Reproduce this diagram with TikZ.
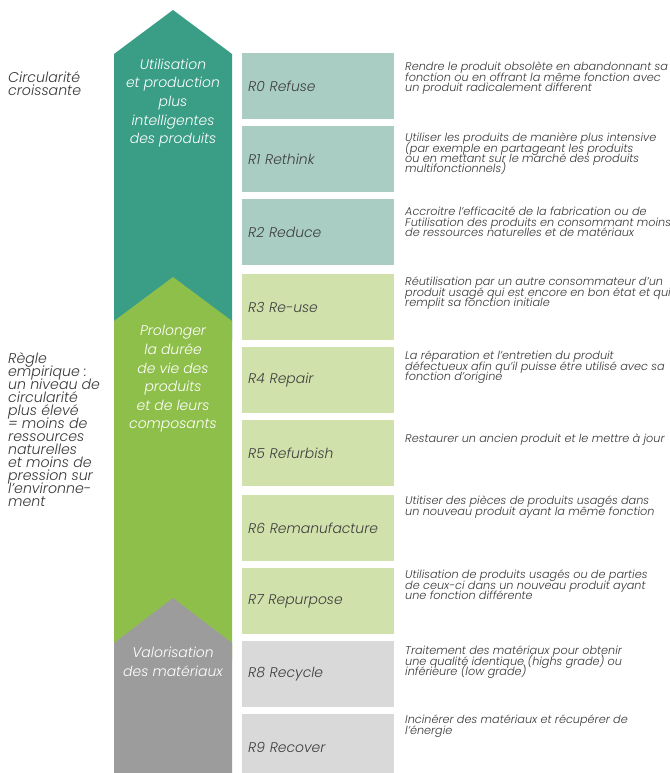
\documentclass[tikz,border=0pt]{standalone}
\usepackage{fontspec}
\setmainfont{Poppins}[UprightFont={* Light}, ItalicFont={* Light Italic}]
\definecolor{tealA}{HTML}{3A9D86}
\definecolor{tealB}{HTML}{A9CDC3}
\definecolor{greenA}{HTML}{8FBF4B}
\definecolor{greenB}{HTML}{D1E1AB}
\definecolor{grayA}{HTML}{9C9C9C}
\definecolor{grayB}{HTML}{D9D9D9}
\definecolor{labc}{HTML}{3E3E3E}
\definecolor{descc}{HTML}{383838}
\newcommand\tightlines{\lineskiplimit=-100pt\relax}
\newcommand\descfont{\fontsize{11.3}{10.3}\selectfont\itshape\tightlines}
\newcommand\labfont{\fontsize{14}{16}\selectfont\itshape}
\newcommand\arrfont{\fontsize{14}{18.7}\selectfont\itshape\tightlines}
\newcommand\sidefont{\fontsize{14.2}{13.1}\selectfont\itshape\tightlines}
\begin{document}
\begin{tikzpicture}[x=1bp,y=-1bp,
  rbox/.style={minimum width=152bp, minimum height=66bp, inner xsep=6bp, inner ysep=0pt, text width=140bp, align=left, anchor=north west, font=\labfont, text=labc},
  desc/.style={anchor=north west, inner sep=0pt, align=left, font=\descfont, text=descc},
  atext/.style={align=center, text=white, font=\arrfont, inner sep=0pt},
  side/.style={anchor=north west, inner sep=0pt, align=left, font=\sidefont, text=descc}]
\useasboundingbox[fill=white] (0,0) rectangle (670,773);
% arrows
\fill[tealA] (114,340) -- (114,54) -- (173,10) -- (232,54) -- (232,340) -- cycle;
\fill[greenA] (114,660) -- (114,321) -- (173,277) -- (232,321) -- (232,660) -- cycle;
\fill[grayA] (114,773) -- (114,643) -- (173,598) -- (232,643) -- (232,773) -- cycle;
\node[atext] (ta) at (173,103) {Utilisation\\et production\\plus\\intelligentes\\des produits};
\node[atext] (ga) at (173,379) {Prolonger\\la durée\\de vie des\\produits\\et de leurs\\composants};
\node[atext] (ya) at (173,662) {Valorisation\\des matériaux};
% side texts
\node[side] (s1) at (8,71) {Circularité\\croissante};
\node[side] (s2) at (8,352) {Règle\\empirique :\\un niveau de\\circularité\\plus élevé\\= moins de\\ressources\\naturelles\\et moins de\\pression sur\\l’environne-\\ment};
% boxes
\node[rbox, fill=tealB] (r0) at (242,53) {R0 Refuse};
\node[rbox, fill=tealB] (r1) at (242,126) {R1 Rethink};
\node[rbox, fill=tealB] (r2) at (242,199) {R2 Reduce};
\node[rbox, fill=greenB] (r3) at (242,274) {R3 Re-use};
\node[rbox, fill=greenB] (r4) at (242,347) {R4 Repair};
\node[rbox, fill=greenB] (r5) at (242,420) {R5 Refurbish};
\node[rbox, fill=greenB] (r6) at (242,495) {R6 Remanufacture};
\node[rbox, fill=greenB] (r7) at (242,568) {R7 Repurpose};
\node[rbox, fill=grayB] (r8) at (242,641) {R8 Recycle};
\node[rbox, fill=grayB] (r9) at (242,714) {R9 Recover};
% descriptions
\node[desc] (d0) at (405,62) {Rendre le produit obsolète en abandonnant sa\\fonction ou en offrant la même fonction avec\\un produit radicalement different};
\node[desc] (d1) at (405,133) {Utiliser les produits de manière plus intensive\\(par exemple en partageant les produits\\ou en mettant sur le marché des produits\\multifonctionnels)};
\node[desc] (d2) at (405,207) {Accroitre l’efficacité de la fabrication ou de\\Futilisation des produits en consommant moins\\de ressources naturelles et de matériaux};
\node[desc] (d3) at (405,277) {Réutilisation par un autre consommateur d’un\\produit usagé qui est encore en bon état et qui\\remplit sa fonction initiale};
\node[desc] (d4) at (405,351) {La réparation et l’entretien du produit\\défectueux afin qu’il puisse étre utilisé avec sa\\fonction d’origine};
\node[desc] (d5) at (405,434) {Restaurer un ancien produit et le mettre à jour};
\node[desc] (d6) at (405,496) {Utitiser des pièces de produits usagés dans\\un nouveau produit ayant la même fonction};
\node[desc] (d7) at (405,570) {Utilisation de produits usagés ou de parties\\de ceux-ci dans un nouveau produit ayant\\une fonction différente};
\node[desc] (d8) at (405,646) {Traitement des matériaux pour obtenir\\une qualité identique (highs grade) ou\\inférieure (low grade)};
\node[desc] (d9) at (405,715) {Incinérer des matériaux et récupérer de\\l’énergie};
\end{tikzpicture}
\end{document}
